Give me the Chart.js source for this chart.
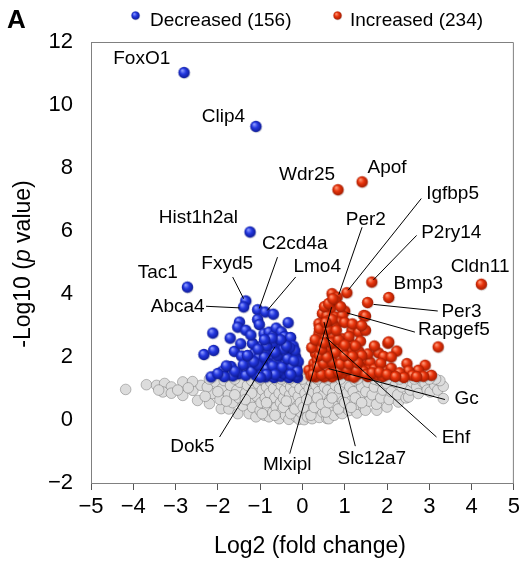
<!DOCTYPE html>
<html>
<head>
<meta charset="utf-8">
<script src="https://cdn.jsdelivr.net/npm/chart.js@4.4.1/dist/chart.umd.min.js"></script>
<style>
  html, body { margin: 0; padding: 0; background: #fff; }
  #wrap { width: 524px; height: 563px; }
</style>
</head>
<body>
<div id="wrap"><canvas id="volcano-chart" width="524" height="563"></canvas></div>
<script>
// [log2 fold change, -log10 p]
const decreasedPoints = [
  [-2.80, 11.03], [-1.10, 9.32], [-1.24, 5.97], [-2.72, 4.22],
  [-1.34, 3.78], [-1.39, 3.59], [-1.06, 3.50], [-0.88, 3.43], [-0.69, 3.36],
  [-0.34, 3.09], [-1.49, 3.11], [-1.53, 2.95], [-1.34, 2.85], [-1.06, 3.19], [-1.02, 3.03],
  [-2.12, 2.76], [-1.71, 2.60], [-2.33, 2.08], [-2.10, 2.21], [-1.61, 2.18], [-1.44, 2.03],
  [-2.16, 1.37], [-1.89, 1.55], [-1.69, 1.70], [-1.51, 1.47], [-1.26, 1.74], [-1.14, 2.11],
  [-0.95, 2.37], [-0.91, 2.74], [-0.79, 2.79], [-0.67, 2.69], [-0.59, 2.53], [-0.48, 2.43],
  [-0.36, 2.48], [-0.75, 2.27], [-0.55, 2.21], [-0.32, 2.16], [-1.18, 2.43], [-1.02, 2.00],
  [-0.87, 1.90], [-0.71, 2.00], [-0.51, 1.95], [-0.32, 1.90], [-0.16, 2.00], [-0.98, 1.58],
  [-0.79, 1.63], [-0.59, 1.68], [-0.40, 1.63], [-0.20, 1.58], [-1.10, 1.42], [-0.87, 1.37],
  [-0.67, 1.35], [-0.51, 1.39], [-0.32, 1.35], [-0.12, 1.35], [-1.34, 1.42],
  [-0.62, 2.92], [-0.50, 2.80], [-0.42, 2.65], [-0.28, 2.62], [-0.22, 2.35], [-0.18, 2.20],
  [-0.26, 1.78], [-0.44, 1.80], [-0.62, 1.85], [-0.80, 1.78], [-0.95, 1.80], [-1.08, 1.62],
  [-0.14, 1.65], [-0.10, 1.85], [-0.60, 2.38], [-0.85, 2.15], [-0.40, 2.05], [-0.22, 1.45],
  [-0.45, 1.48], [-0.75, 1.50], [-0.96, 1.45], [-1.20, 1.55], [-1.65, 1.40], [-1.85, 1.38],
  [-2.00, 1.48], [-0.30, 2.30], [-0.70, 2.45], [-1.22, 2.70], [-1.46, 2.42], [-0.15, 1.42],
  [-0.30, 1.50], [-0.55, 1.55], [-0.85, 1.62], [-1.05, 1.75], [-0.70, 1.72], [-0.48, 1.68],
  [-0.25, 1.70], [-0.12, 1.55], [-0.35, 1.95], [-0.60, 2.05], [-0.90, 2.00], [-1.15, 1.85],
  [-0.20, 1.88], [-0.45, 2.25], [-0.65, 2.15], [-0.85, 2.35], [-1.05, 2.25], [-0.38, 2.35],
  [-0.52, 2.55], [-0.72, 2.60], [-0.90, 2.55], [-1.40, 1.75], [-1.60, 1.55], [-1.80, 1.72],
  [-1.30, 2.05], [-0.28, 1.45], [-0.65, 1.45], [-0.85, 1.45], [-1.00, 1.36]
];

const increasedPoints = [
  [0.84, 7.31], [1.41, 7.56], [4.23, 4.31], [1.64, 4.38], [2.04, 3.89], [1.54, 3.73],
  [1.05, 4.04], [0.70, 4.01], [0.82, 3.90], [0.78, 3.78], [1.45, 3.32],
  [0.66, 3.54], [1.00, 3.46], [1.49, 3.30], [0.47, 3.38], [0.58, 3.32], [0.78, 3.27],
  [0.94, 3.32], [0.86, 3.11], [0.39, 3.06], [0.74, 3.01], [0.55, 2.85], [1.17, 2.85],
  [1.33, 2.79], [1.49, 2.85], [0.94, 2.58], [1.13, 2.43], [1.37, 2.50], [2.02, 2.44],
  [2.23, 2.19], [3.21, 2.32], [1.09, 2.21], [1.33, 2.19], [1.80, 2.13], [1.92, 2.02],
  [1.02, 1.95], [1.21, 1.90], [1.49, 1.90], [1.60, 1.84], [2.47, 1.79], [2.90, 1.74],
  [2.74, 1.58], [2.51, 1.56], [3.05, 1.42], [2.86, 1.39], [2.15, 1.42], [1.96, 1.58],
  [1.76, 1.42], [1.56, 1.58], [1.33, 1.47], [1.09, 1.42], [0.86, 1.45], [0.70, 1.37],
  [0.51, 1.37], [0.31, 1.37], [0.15, 1.58], [0.39, 2.74], [0.43, 2.43], [0.31, 2.11],
  [0.27, 1.79], [0.51, 2.16],
  [0.55, 2.60], [0.70, 2.70], [0.62, 2.30], [0.80, 2.35], [0.95, 2.20], [0.72, 2.05],
  [0.88, 1.95], [0.45, 1.95], [0.60, 1.75], [0.78, 1.70], [0.95, 1.68], [1.15, 1.65],
  [1.35, 1.70], [0.40, 1.55], [0.58, 1.55], [0.75, 1.52], [0.95, 1.50], [1.20, 1.52],
  [1.45, 1.55], [1.70, 1.62], [1.85, 1.80], [2.10, 1.65], [2.30, 1.50], [2.60, 1.42],
  [2.40, 1.35], [1.90, 1.38], [1.55, 1.38], [1.22, 1.36], [0.20, 1.40], [0.22, 2.30],
  [0.30, 2.55], [0.48, 2.95], [0.62, 3.15], [0.90, 3.60], [0.52, 3.60], [1.10, 2.65],
  [1.25, 2.35], [1.55, 2.10], [1.70, 2.35], [1.40, 2.05], [1.02, 1.82], [0.35, 1.90],
  [0.28, 1.60], [2.10, 2.00], [1.00, 3.10], [1.18, 3.05], [1.40, 3.00], [2.04, 2.48],
  [0.25, 1.45], [0.45, 1.45], [0.65, 1.48], [0.85, 1.55], [1.05, 1.60], [1.28, 1.58],
  [1.50, 1.45], [1.65, 1.50], [1.82, 1.52], [2.00, 1.45], [2.20, 1.38], [2.70, 1.38],
  [0.35, 1.70], [0.50, 1.80], [0.70, 1.85], [0.90, 1.78], [1.10, 1.78], [1.30, 1.82],
  [0.40, 2.05], [0.58, 2.00], [0.78, 2.15], [1.00, 2.05], [1.18, 2.02], [0.45, 2.25],
  [0.68, 2.45], [0.85, 2.55], [1.00, 2.38], [0.50, 2.45], [0.40, 2.90], [0.60, 2.88],
  [0.80, 2.85], [0.70, 3.20], [0.55, 3.10], [0.62, 3.70], [0.72, 3.85]
];

const unchangedPoints = [
  [-4.18, 0.97], [-3.69, 1.12], [-3.45, 1.10], [-3.26, 1.16], [-3.10, 1.05], [-3.30, 0.89],
  [-3.10, 0.85], [-2.83, 1.21], [-2.83, 0.78], [-2.59, 0.94], [-2.48, 0.62], [-2.40, 1.10],
  [-2.60, 1.22], [-2.70, 1.02], [-2.95, 0.95], [-3.40, 0.95],
  [-2.20, 0.52], [-2.12, 0.84], [-2.25, 1.05], [-2.05, 1.20], [-2.30, 0.75], [-1.92, 0.36],
  [-1.95, 0.65], [-1.90, 1.00], [-1.85, 1.25], [-1.74, 0.35], [-1.75, 0.80], [-1.70, 1.10],
  [-1.65, 0.55], [-1.55, 0.95], [-1.53, 0.20], [-1.50, 0.70], [-1.48, 1.20], [-1.40, 0.45],
  [-1.35, 0.85], [-1.30, 1.10], [-1.26, 0.20], [-1.25, 0.60], [-1.20, 1.25], [-1.18, 0.40],
  [-1.15, 0.95], [-1.10, 0.10], [-1.08, 0.75], [-1.05, 1.15], [-1.00, 0.30], [-0.98, 0.55],
  [-0.95, 0.95], [-0.92, 1.25], [-0.90, 0.15], [-0.88, 0.70], [-0.85, 1.05], [-0.82, 0.40],
  [-0.79, 0.10], [-0.78, 0.85], [-0.75, 1.20], [-0.72, 0.55], [-0.70, 0.25], [-0.68, 1.00],
  [-0.65, 0.70], [-0.62, 0.40], [-0.60, 1.25], [-0.58, 0.12], [-0.55, 0.04], [-0.55, 0.85],
  [-0.52, 0.55], [-0.50, 1.10], [-0.48, 0.28], [-0.45, 0.70], [-0.42, 0.95], [-0.40, 0.15],
  [-0.38, 1.22], [-0.35, 0.45], [-0.32, 0.02], [-0.30, 0.80], [-0.28, 1.05], [-0.25, 0.30],
  [-0.22, 0.60], [-0.20, 0.90], [-0.18, 1.20], [-0.15, 0.10], [-0.12, 0.45], [-0.10, 0.75],
  [-0.08, 0.02], [-0.06, 1.00], [-0.04, 0.25],
  [0.04, 0.01], [0.05, 0.55], [0.06, 0.85], [0.08, 1.15], [0.10, 0.30], [0.12, 0.10],
  [0.14, 0.70], [0.16, 1.00], [0.18, 0.45], [0.20, 1.25], [0.23, 0.04], [0.25, 0.85],
  [0.28, 0.20], [0.30, 0.60], [0.32, 1.10], [0.35, 0.35], [0.38, 0.90], [0.40, 0.08],
  [0.42, 0.65], [0.45, 1.20], [0.48, 0.25], [0.50, 0.80], [0.52, 1.05], [0.55, 0.45],
  [0.58, 0.05], [0.60, 0.95], [0.62, 0.04], [0.65, 0.65], [0.68, 1.25], [0.70, 0.30],
  [0.72, 0.85], [0.75, 0.15], [0.78, 1.10],
  [0.80, 0.50], [0.84, 0.75], [0.88, 1.00], [0.90, 0.25], [0.94, 0.20], [0.96, 0.60],
  [1.00, 1.20], [1.02, 0.40], [1.05, 0.85], [1.10, 0.30], [1.12, 1.05], [1.15, 0.60],
  [1.20, 0.90], [1.25, 1.25], [1.29, 0.22], [1.30, 0.50], [1.35, 0.75], [1.40, 1.05],
  [1.45, 0.40], [1.49, 0.31], [1.50, 0.90], [1.55, 1.20], [1.58, 0.60],
  [1.65, 0.80], [1.70, 1.05], [1.76, 0.31], [1.75, 0.50], [1.80, 1.25], [1.85, 0.70],
  [1.90, 0.95], [2.00, 0.41], [2.00, 1.15], [2.05, 0.65], [2.10, 0.90], [2.20, 1.20],
  [2.27, 0.57], [2.25, 0.80], [2.35, 1.05],
  [2.45, 0.70], [2.51, 0.73], [2.55, 0.95], [2.60, 1.20], [2.70, 1.05], [2.74, 0.84],
  [2.85, 1.20], [2.90, 1.16], [2.95, 0.95], [3.02, 0.89], [3.13, 1.10], [3.20, 0.95],
  [3.33, 1.07], [3.33, 0.68], [3.25, 1.25], [3.15, 1.30], [3.00, 1.30],
  [-0.95, 0.20], [-0.85, 0.55], [-0.65, 0.15], [-0.45, 0.40], [-0.38, 0.60], [-0.28, 0.20],
  [-0.18, 0.35], [-0.05, 0.55], [0.02, 0.40], [0.10, 0.65], [0.20, 0.15], [0.28, 0.40],
  [0.35, 0.70], [0.45, 0.50], [0.55, 0.25], [0.62, 0.55], [0.70, 0.70], [0.85, 0.35],
  [1.00, 0.55], [1.15, 0.40], [1.25, 0.70], [1.40, 0.55], [-1.20, 0.85], [-1.35, 0.65],
  [-1.60, 0.80], [-1.80, 0.60], [-2.00, 0.90], [-0.50, 1.30], [-1.00, 1.30], [0.35, 1.30],
  [0.90, 1.30], [1.70, 1.30], [2.30, 1.30], [-1.60, 1.30], [-2.20, 1.30], [0.00, 1.30],
  [-0.30, 1.30], [0.60, 1.30], [1.30, 1.30], [2.00, 1.30], [2.65, 1.30]
];

const xTickValues = [-5, -4, -3, -2, -1, 0, 1, 2, 3, 4, 5];
const yTickValues = [-2, 0, 2, 4, 6, 8, 10, 12];
const seriesNames = ["Decreased (156)", "Increased (234)"];

// gene callouts: text centre and optional leader line, all in data units
const geneLabels = [
  { name: "FoxO1", tx: -3.80, ty: 11.48 },
  { name: "Clip4", tx: -1.87, ty: 9.62 },
  { name: "Hist1h2al", tx: -2.46, ty: 6.43 },
  { name: "Tac1", tx: -3.42, ty: 4.67 },
  { name: "Wdr25", tx: 0.11, ty: 7.77 },
  { name: "Apof", tx: 2.00, ty: 8.01 },
  { name: "Igfbp5", tx: 3.55, ty: 7.19, line: [2.81, 7.03, 1.08, 4.12] },
  { name: "Per2", tx: 1.50, ty: 6.37, line: [1.41, 6.12, 0.86, 3.98] },
  { name: "P2ry14", tx: 3.52, ty: 5.94, line: [2.70, 5.86, 1.68, 4.45] },
  { name: "C2cd4a", tx: -0.18, ty: 5.60, line: [-0.59, 5.17, -1.02, 3.54] },
  { name: "Fxyd5", tx: -1.78, ty: 4.97, line: [-1.65, 4.54, -1.39, 3.85] },
  { name: "Lmo4", tx: 0.35, ty: 4.86, line: [-0.16, 4.54, -0.83, 3.48] },
  { name: "Cldn11", tx: 4.20, ty: 4.87 },
  { name: "Bmp3", tx: 2.74, ty: 4.31 },
  { name: "Abca4", tx: -2.95, ty: 3.59, line: [-2.28, 3.61, -1.49, 3.56] },
  { name: "Per3", tx: 3.76, ty: 3.43, line: [1.68, 3.67, 3.20, 3.46] },
  { name: "Rapgef5", tx: 3.58, ty: 2.87, line: [1.05, 3.40, 2.66, 2.79] },
  { name: "Gc", tx: 3.88, ty: 0.66, line: [3.37, 0.65, 0.62, 1.63] },
  { name: "Ehf", tx: 3.63, ty: -0.55, line: [3.17, -0.54, 0.55, 2.63] },
  { name: "Dok5", tx: -2.60, ty: -0.84, line: [-1.96, -0.54, -0.65, 2.32] },
  { name: "Mlxipl", tx: -0.36, ty: -1.41, line: [-0.30, -1.07, 0.69, 3.58] },
  { name: "Slc12a7", tx: 1.64, ty: -1.22, line: [1.25, -0.83, 0.51, 3.11] }
];

const FONT = "'Liberation Sans', Arial, Helvetica, sans-serif";

function makeSphere(light, mid, dark) {
  const c = document.createElement("canvas");
  c.width = 15;
  c.height = 15;
  const g = c.getContext("2d");
  g.fillStyle = "rgba(0,0,0,0.13)";
  g.beginPath();
  g.arc(8.1, 8.5, 5.7, 0, Math.PI * 2);
  g.fill();
  const grad = g.createRadialGradient(5.6, 5.2, 0.4, 7.5, 7.5, 6);
  grad.addColorStop(0, light);
  grad.addColorStop(0.45, mid);
  grad.addColorStop(1, dark);
  g.fillStyle = grad;
  g.beginPath();
  g.arc(7.5, 7.5, 5.7, 0, Math.PI * 2);
  g.fill();
  return c;
}

const blueSphere = makeSphere("#8f9cff", "#2438e0", "#0c1890");
const redSphere = makeSphere("#ff9a78", "#e8340c", "#9c1a00");

const toXY = (pts) => pts.map(([x, y]) => ({ x, y }));

const decorPlugin = {
  id: "decor",
  beforeDatasetsDraw(chart) {
    const { ctx, chartArea: a } = chart;
    ctx.save();
    ctx.strokeStyle = "#808080";
    ctx.lineWidth = 1;
    ctx.beginPath();
    ctx.moveTo(a.left, a.top + 0.5);
    ctx.lineTo(a.right - 0.5, a.top + 0.5);
    ctx.lineTo(a.right - 0.5, a.bottom);
    ctx.stroke();
    ctx.restore();
  },
  afterDatasetsDraw(chart) {
    const { ctx, scales } = chart;
    const px = (v) => scales.x.getPixelForValue(v);
    const py = (v) => scales.y.getPixelForValue(v);
    ctx.save();

    // leader lines
    ctx.strokeStyle = "#000";
    ctx.lineWidth = 1;
    geneLabels.forEach((g) => {
      if (!g.line) return;
      ctx.beginPath();
      ctx.moveTo(px(g.line[0]), py(g.line[1]));
      ctx.lineTo(px(g.line[2]), py(g.line[3]));
      ctx.stroke();
    });

    // gene names
    ctx.fillStyle = "#000";
    ctx.font = `19px ${FONT}`;
    ctx.textAlign = "center";
    ctx.textBaseline = "middle";
    geneLabels.forEach((g) => {
      ctx.fillText(g.name, px(g.tx), py(g.ty));
    });

    // legend
    ctx.textAlign = "left";
    ctx.font = `19px ${FONT}`;
    ctx.drawImage(blueSphere, 136 - 6, 16 - 6, 11, 11);
    ctx.fillText(seriesNames[0], 150, 21);
    ctx.drawImage(redSphere, 338 - 6, 16 - 6, 11, 11);
    ctx.fillText(seriesNames[1], 350, 21);

    // panel letter
    ctx.font = `bold 26px ${FONT}`;
    ctx.fillText("A", 7, 21);

    // x title
    ctx.textAlign = "center";
    ctx.font = `23px ${FONT}`;
    ctx.fillText("Log2 (fold change)", 310, 547);

    // y title with italic p
    ctx.translate(24, 264);
    ctx.rotate(-Math.PI / 2);
    const parts = [
      { t: "-Log10 (", f: `23px ${FONT}` },
      { t: "p", f: `italic 23px ${FONT}` },
      { t: " value)", f: `23px ${FONT}` }
    ];
    let total = 0;
    parts.forEach((p) => {
      ctx.font = p.f;
      p.w = ctx.measureText(p.t).width;
      total += p.w;
    });
    let cx = -total / 2;
    ctx.textAlign = "left";
    parts.forEach((p) => {
      ctx.font = p.f;
      ctx.fillText(p.t, cx, 0);
      cx += p.w;
    });
    ctx.restore();
  }
};

const minusSign = (v) => String(v).replace("-", "\u2212");

new Chart(document.getElementById("volcano-chart"), {
  type: "scatter",
  data: {
    datasets: [
      {
        label: seriesNames[1],
        data: toXY(increasedPoints),
        pointStyle: redSphere,
        order: 1
      },
      {
        label: seriesNames[0],
        data: toXY(decreasedPoints),
        pointStyle: blueSphere,
        order: 2
      },
      {
        label: "Unchanged",
        data: toXY(unchangedPoints),
        pointStyle: "circle",
        pointRadius: 5.3,
        backgroundColor: "#dcdcdc",
        borderColor: "rgba(95,95,95,0.6)",
        borderWidth: 0.7,
        order: 3
      }
    ]
  },
  options: {
    responsive: false,
    animation: false,
    devicePixelRatio: 1,
    layout: { padding: { top: 42, right: 8, left: 0, bottom: 0 } },
    plugins: {
      legend: { display: false },
      tooltip: { enabled: false }
    },
    scales: {
      x: {
        type: "linear",
        min: -5,
        max: 5,
        afterBuildTicks: (scale) => {
          scale.ticks = xTickValues.map((value) => ({ value }));
        },
        afterFit: (scale) => {
          scale.height = 80;
        },
        ticks: {
          autoSkip: false,
          maxRotation: 0,
          padding: 4,
          color: "#000",
          font: { family: FONT, size: 22 },
          callback: minusSign
        },
        grid: {
          display: true,
          drawOnChartArea: false,
          drawTicks: true,
          tickLength: 7,
          color: "#555"
        },
        border: { display: true, color: "#808080" }
      },
      y: {
        type: "linear",
        min: -2,
        max: 12,
        afterBuildTicks: (scale) => {
          scale.ticks = yTickValues.map((value) => ({ value }));
        },
        afterFit: (scale) => {
          scale.width = 91;
        },
        ticks: {
          autoSkip: false,
          padding: 18,
          color: "#000",
          font: { family: FONT, size: 22 },
          callback: minusSign
        },
        grid: { display: false, drawTicks: false },
        border: { display: true, color: "#808080" }
      }
    }
  },
  plugins: [decorPlugin]
});
</script>
</body>
</html>
